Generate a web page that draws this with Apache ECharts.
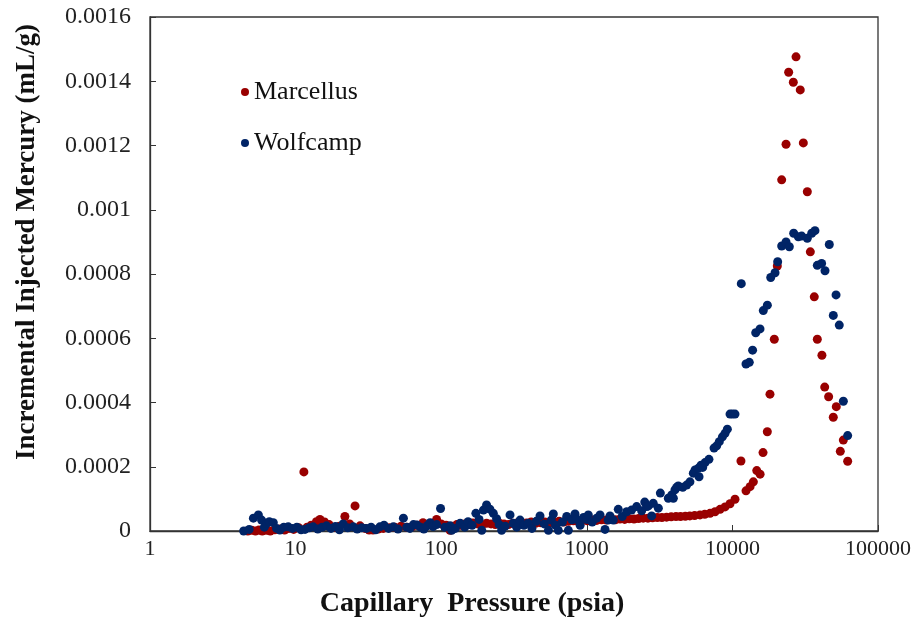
<!DOCTYPE html>
<html>
<head>
<meta charset="utf-8">
<script src="https://cdn.jsdelivr.net/npm/echarts@6/dist/echarts.min.js"></script>
<style>html,body{margin:0;padding:0;background:#fff}#c{width:922px;height:623px}</style>
</head>
<body>
<div id="c"></div>
<script>
const xTicks = [1, 10, 100, 1000, 10000, 100000];
const yTicks = [0, 0.0002, 0.0004, 0.0006, 0.0008, 0.001, 0.0012, 0.0014, 0.0016];

const marcellusX = [4.7,5.0,5.3,5.6,5.9,6.3,6.7,7.2,7.8,8.4,9.0,9.7,10.5,11.4,12.0,12.8,13.9,14.7,15.8,17.0,18.5,20.0,21.8,23.5,25.6,27.7,30,32,34,37,40,44,48,53,58,62.9,68,75,82,88,93,100,108,115,120,128,135,145,155,165,178,190,205,220,235,250,270,290,310,335,360,385,415,445,480,515,555,600,645,695,750,810,870,940,1010,1090,1170,1260,1360,1460,1570,1690,1820,1960,2110,2270,2440,2630,2830,3050,3280,3530,3800,4100,4400,4750,5100,5500,5990,6460,7020,7600,8230,8900,9630,10420,11450,12400,13220,13930,14700,15500,16230,17370,18120,19400,20340,21800,23350,24340,26200,27350,29250,30700,32700,34300,36500,38300,41200,43050,45800,49300,51700,55100,57800,61900];
const marcellusY = [0,0.000002,0,0.000003,0,0.000002,0,0.000004,0.000006,0.000003,0.000008,0.000005,0.00001,0.000184,0.000012,0.000018,0.000029,0.000036,0.000028,0.00002,0.000012,0.000015,0.000045,0.000022,0.000078,0.000016,0.000008,0.000003,0.000003,0.000006,0.000008,0.00001,0.000012,0.000015,0.000012,0.000013,0.000018,0.000026,0.00002,0.000024,0.000036,0.000022,0.000018,0.000002,0.000015,0.00002,0.000018,0.000022,0.00002,0.000025,0.000022,0.000018,0.000024,0.000022,0.00002,0.000025,0.000022,0.00002,0.000024,0.000026,0.000022,0.000025,0.000028,0.000024,0.000026,0.000028,0.000025,0.000027,0.00003,0.000028,0.00003,0.000032,0.00003,0.000033,0.000032,0.000034,0.000033,0.000035,0.000034,0.000036,0.000035,0.000037,0.000036,0.000038,0.000037,0.000039,0.00004,0.00004,0.000041,0.000042,0.000042,0.000043,0.000044,0.000045,0.000045,0.000046,0.000047,0.000048,0.00005,0.000052,0.000055,0.00006,0.0000675,0.000075,0.000085,0.0000987,0.000218,0.000125,0.000138,0.000153,0.000188,0.000177,0.000244,0.000309,0.000426,0.000597,0.000825,0.001093,0.001204,0.001428,0.001397,0.001476,0.001373,0.001208,0.001056,0.000869,0.000729,0.000597,0.000547,0.000448,0.000418,0.000354,0.000387,0.000248,0.000283,0.000217];

const wolfcampX = [4.4,4.8,5.13,5.55,5.84,6.1,6.34,6.6,7.03,7.4,7.8,8.3,8.9,9.5,10.2,10.9,11.6,12.4,13.2,14.2,15.2,16.3,17.5,18.8,20,21.2,22.8,24.9,26.5,28.5,30.7,33,35.5,37.9,40.5,43.5,46.9,50.5,55,58,61,64.5,68.1,72,76,80,83.9,88,93,99,106,115,118,125,135,145,153,163,173,182,190,195,205,216,228,240,250,260,275,297,313,330,348,370,396,420,450,477,510,545,570,589,610,637,680,728,747,790,830,851,900,950,998,1024,1090,1169,1233,1334,1400,1443,1520,1645,1750,1880,2030,2200,2380,2500,2580,2650,2790,2860,3100,3200,3630,3830,3930,4030,4140,4250,4560,4850,5110,5390,5540,5830,5900,6090,6250,6490,6900,7480,7800,8130,8540,8900,9230,9630,10000,10420,11510,12400,13060,13760,14460,15480,16300,17380,18330,19630,20460,21800,23350,24600,26360,28370,29920,32680,35060,36900,38300,41000,43250,46300,49300,51500,54200,57800,61900];
const wolfcampY = [0,0.000005,0.00004,0.00005,0.000034,0.000012,0.000024,0.000029,0.000026,0.000008,0.000003,0.000012,0.000013,0.000008,0.000012,0.000004,0.000005,0.00001,0.000013,0.000006,0.000012,0.000016,0.000008,0.000014,0.000004,0.000022,0.00001,0.000013,0.000006,0.00001,0.000008,0.000012,0.000004,0.000013,0.000018,0.000008,0.000013,0.000006,0.00004,0.000012,0.000008,0.00002,0.000019,0.000012,0.000006,0.000016,0.000026,0.000014,0.00002,0.00007,0.000012,0.000016,0.000002,0.000008,0.000024,0.000012,0.000029,0.000018,0.000055,0.000036,0.000002,0.000065,0.000081,0.000068,0.000055,0.000038,0.00002,0.000002,0.000015,0.00005,0.000024,0.000012,0.000034,0.000018,0.000024,0.000008,0.00003,0.000047,0.000022,0.000002,0.000034,0.000053,0.000018,0.000002,0.000028,0.000045,0.000002,0.000035,0.000053,0.000036,0.000018,0.000042,0.000036,0.00005,0.000028,0.00004,0.00005,0.000005,0.000034,0.000047,0.000034,0.0000675,0.000045,0.00006,0.000065,0.000076,0.000063,0.00009,0.000076,0.000078,0.000047,0.000086,0.000071,0.000118,0.000102,0.000112,0.000102,0.000128,0.000136,0.00014,0.000136,0.000143,0.000153,0.00018,0.00019,0.000195,0.000169,0.000205,0.000198,0.000213,0.000223,0.000258,0.000265,0.000278,0.000293,0.000304,0.000317,0.000364,0.000364,0.000364,0.00077,0.00052,0.000525,0.000563,0.000617,0.000629,0.000686,0.000703,0.000789,0.000804,0.000838,0.000887,0.0009,0.000885,0.000927,0.000916,0.000918,0.000911,0.000927,0.000935,0.000827,0.000833,0.00081,0.000892,0.000671,0.000735,0.000641,0.000404,0.000297];

const RED = '#990000';
const BLUE = '#002466';
const FONT = '"Liberation Serif", "Times New Roman", serif';

function pairs(xs, ys) { return xs.map((x, i) => [x, ys[i]]); }

const chart = echarts.init(document.getElementById('c'), null, {renderer: 'canvas'});
chart.setOption({
  animation: false,
  backgroundColor: '#fff',
  grid: {left: 150, right: 44, top: 17, bottom: 92, show: true, borderColor: '#333', borderWidth: 1.3, backgroundColor: 'transparent'},
  legend: {
    orient: 'vertical', left: 236, top: 74, itemGap: 25, itemWidth: 8, itemHeight: 8, itemTextGap: 16,
    icon: 'circle',
    textStyle: {fontFamily: FONT, fontSize: 26, color: '#111', lineHeight: 26},
    data: ['Marcellus', 'Wolfcamp']
  },
  xAxis: {
    type: 'log', logBase: 10, min: xTicks[0], max: xTicks[xTicks.length - 1],
    axisLine: {show: true, onZero: false, lineStyle: {color: '#333', width: 1.3}},
    axisTick: {show: true, inside: true, length: 6, lineStyle: {color: '#333'}},
    minorTick: {show: false},
    splitLine: {show: false},
    axisLabel: {margin: 7, fontFamily: FONT, fontSize: 22, color: '#222', formatter: v => String(Math.round(v))}
  },
  yAxis: {
    type: 'value', min: yTicks[0], max: yTicks[yTicks.length - 1], interval: 0.0002,
    axisLine: {show: true, lineStyle: {color: '#333', width: 1.3}},
    axisTick: {show: true, inside: true, length: 6, lineStyle: {color: '#333'}},
    splitLine: {show: false},
    axisLabel: {margin: 19, fontFamily: FONT, fontSize: 24, color: '#222', formatter: v => String(parseFloat(v.toFixed(5)))}
  },
  graphic: [{
    type: 'text', x: 472, y: 604,
    style: {text: 'Capillary  Pressure (psia)', font: 'bold 28px ' + FONT, fill: '#111', align: 'center', verticalAlign: 'middle'}
  }, {
    type: 'text', x: 27, y: 242, rotation: Math.PI / 2,
    style: {text: 'Incremental Injected Mercury (mL/g)', font: 'bold 27px ' + FONT, fill: '#111', align: 'center', verticalAlign: 'middle'}
  }],
  series: [
    {name: 'Marcellus', type: 'scatter', symbol: 'circle', symbolSize: 9, itemStyle: {color: RED, opacity: 1}, data: pairs(marcellusX, marcellusY)},
    {name: 'Wolfcamp', type: 'scatter', symbol: 'circle', symbolSize: 9, itemStyle: {color: BLUE, opacity: 1}, data: pairs(wolfcampX, wolfcampY)}
  ]
});
</script>
</body>
</html>
